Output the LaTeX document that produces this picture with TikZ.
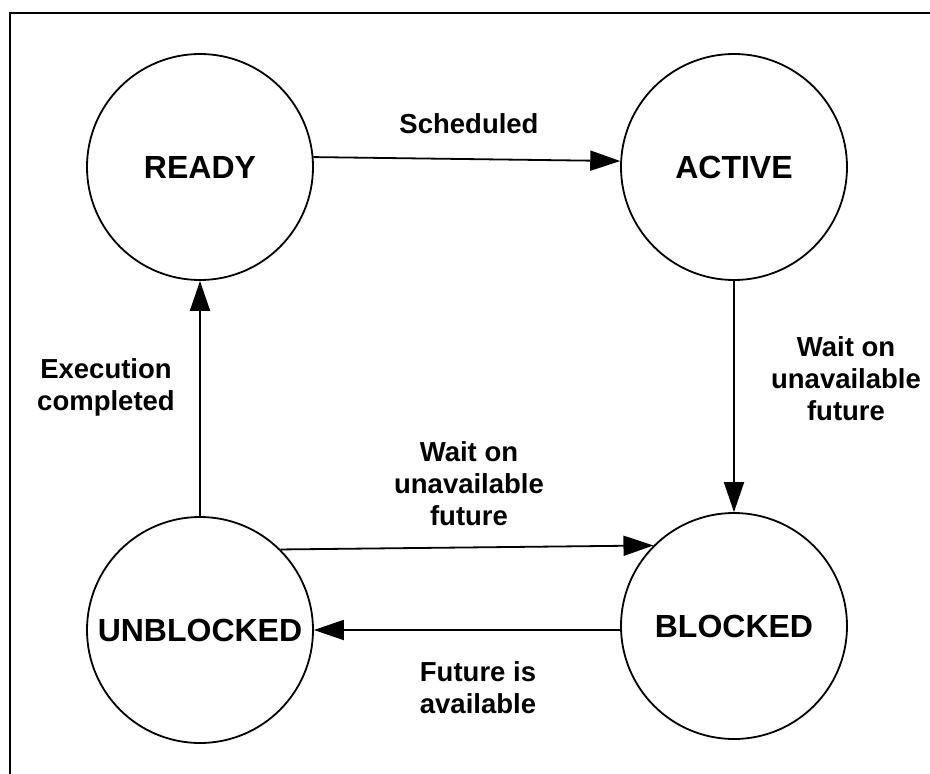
\documentclass[tikz,border=0pt]{standalone}
\usepackage{fontspec}
\setmainfont{Liberation Sans}
\usetikzlibrary{arrows.meta}
\tikzset{
  state/.style={circle, draw, line width=1.8pt, minimum size=226pt, inner sep=0pt,
    font=\fontsize{32}{36}\selectfont\bfseries},
  edgelabel/.style={align=center, font=\fontsize{27.5}{32}\selectfont\bfseries},
  flow/.style={line width=1.8pt, -{Triangle[length=30pt,width=20pt]}},
  frame/.style={line width=2pt}
}
\begin{document}
\begin{tikzpicture}[x=1pt,y=-1pt]
  \useasboundingbox (0,0) rectangle (930,774);
  % open frame: top and left edges only
  \coordinate (ftl) at (9.5,13);
  \coordinate (ftr) at (930,13);
  \coordinate (fbl) at (9.5,774);
  \draw[frame] (ftr) -- (ftl) -- (fbl);

  % states
  \node[state] (ready) at (200,167) {READY};
  \node[state] (active) at (734,167) {ACTIVE};
  \node[state] (blocked) at (734,626) {BLOCKED};
  \node[state] (unblocked) at (200,630) {UNBLOCKED};

  % transitions
  \draw[flow] (ready.5) -- (active.177);
  \draw[flow] (active.south) -- (blocked.north);
  \draw[flow] (unblocked.north) -- (ready.south);
  \draw[flow] (unblocked.45) -- (blocked.135);
  \draw[flow] (blocked.182) -- (unblocked.0);

  % transition labels
  \node[edgelabel] (lsched) at (469,124) {Scheduled};
  \node[edgelabel] (lwaitr) at (846,379) {Wait on\\unavailable\\future};
  \node[edgelabel] (ldone) at (106,387) {Execution\\completed};
  \node[edgelabel] (lwaitm) at (469,484) {Wait on\\unavailable\\future};
  \node[edgelabel] (lfree) at (478,688) {Future is\\available};
\end{tikzpicture}
\end{document}
